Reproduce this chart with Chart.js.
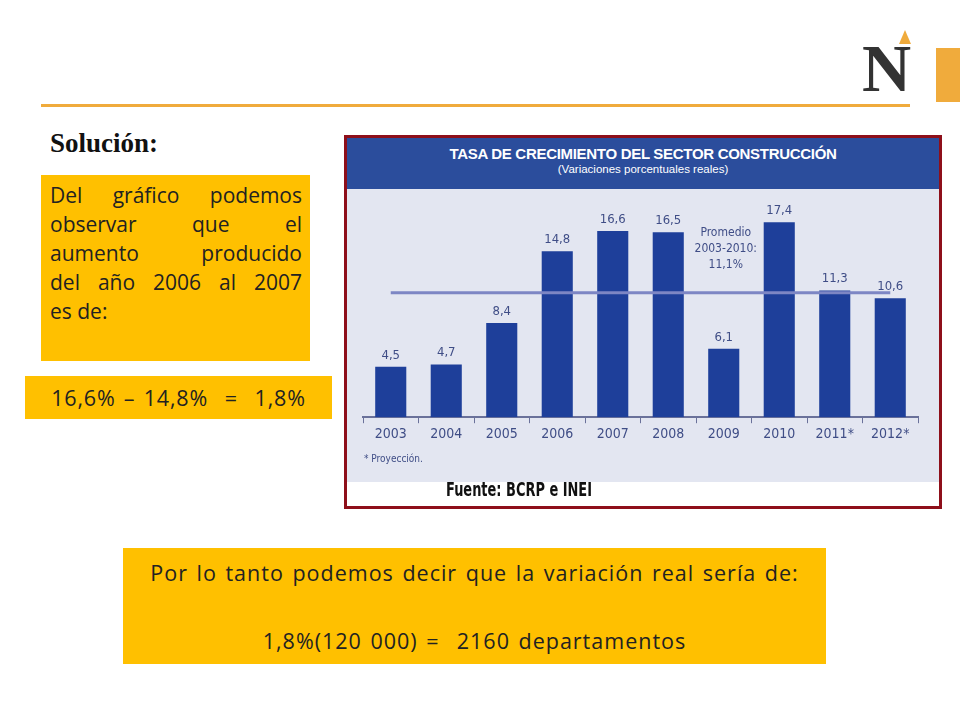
<!DOCTYPE html>
<html>
<head>
<meta charset="utf-8">
<script src="https://cdn.jsdelivr.net/npm/chart.js@4"></script>
<style>
  body { margin: 0; width: 960px; height: 720px; background: #fff; position: relative; overflow: hidden; font-family: "Open Sans", sans-serif; }
  .abs { position: absolute; }
  .amarelo { background: #ffc000; color: #222; }
  .just { text-align: justify; text-align-last: justify; }
</style>
</head>
<body>
<div class="abs" style="left:41px;top:104px;width:869px;height:3px;background:#f0ab3c"></div>
<div class="abs" style="left:936px;top:48px;width:24px;height:54px;background:#f0ab3c"></div>
<div class="abs" style="left:862px;top:34px;font:bold 68px 'Liberation Serif',serif;color:#333;line-height:68px">N</div>
<div class="abs" style="left:899px;top:30px;width:0;height:0;border-left:6px solid transparent;border-right:6px solid transparent;border-bottom:14px solid #f0ab3c"></div>

<div class="abs" style="left:50px;top:128px;font:bold 27px 'Liberation Serif',serif;color:#111">Solución:</div>
<div class="abs amarelo" style="left:41px;top:175px;width:252px;height:178px;padding:6px 8px 2px 9px;font-size:21px;line-height:29px">
  <div class="just">Del gráfico podemos</div>
  <div class="just">observar que el</div>
  <div class="just">aumento producido</div>
  <div class="just">del año 2006 al 2007</div>
  <div>es de:</div>
</div>
<div class="abs amarelo" style="left:25px;top:376px;width:307px;height:43px;font-size:21.5px;line-height:43px;text-align:center;letter-spacing:0.8px;word-spacing:2px">16,6% – 14,8% &nbsp;= &nbsp;1,8%</div>
<div class="abs amarelo" style="left:123px;top:548px;width:703px;height:116px;font-size:21.5px;text-align:center;letter-spacing:1px;word-spacing:2px">
  <div style="position:absolute;left:0;right:0;top:10px">Por lo tanto podemos decir que la variación real sería de:</div>
  <div style="position:absolute;left:0;right:0;top:78px">1,8%(120 000) = &nbsp;2160 departamentos</div>
</div>

<div class="abs" style="left:344px;top:135px;width:592px;height:368px;border:3px solid #8e0f1a;background:#fff">
  <div class="abs" style="left:0;top:0;width:592px;height:51px;background:#2b4d9c;color:#fff;text-align:center;font-family:'Liberation Sans',sans-serif">
    <div style="font-weight:bold;font-size:15px;margin-top:7px;letter-spacing:-0.3px">TASA DE CRECIMIENTO DEL SECTOR CONSTRUCCIÓN</div>
    <div style="font-size:11.5px;margin-top:1px">(Variaciones porcentuales reales)</div>
  </div>
  <div class="abs" style="left:0;top:51px;width:592px;height:293px;background:#e3e6f1">
    <canvas id="grafico" width="592" height="293"></canvas>
  </div>
  <div class="abs" style="left:99px;top:339px;font:bold 20px 'DejaVu Sans Condensed',sans-serif;color:#111;transform:scaleX(0.72);transform-origin:left">Fuente: BCRP e INEI</div>
</div>

<script>
const anos = ["2003", "2004", "2005", "2006", "2007", "2008", "2009", "2010", "2011*", "2012*"];
const tasas = [4.5, 4.7, 8.4, 14.8, 16.6, 16.5, 6.1, 17.4, 11.3, 10.6];
const promedio = 11.1;
const textoPromedio = ["Promedio", "2003-2010:", "11,1%"];

const corTexto = "#3f4d86";

const desenhosExtras = {
  id: "desenhosExtras",
  afterDatasetsDraw(chart) {
    const ctx = chart.ctx;
    const x = chart.scales.x;
    const y = chart.scales.y;
    const meta = chart.getDatasetMeta(0);

    // linea del promedio
    const yProm = y.getPixelForValue(promedio);
    ctx.save();
    ctx.strokeStyle = "#7d86c4";
    ctx.lineWidth = 3;
    ctx.beginPath();
    ctx.moveTo(x.getPixelForValue(0), yProm);
    ctx.lineTo(x.getPixelForValue(9), yProm);
    ctx.stroke();

    // valores encima de las barras
    ctx.fillStyle = corTexto;
    ctx.font = "13px 'DejaVu Sans Condensed', sans-serif";
    ctx.textAlign = "center";
    ctx.textBaseline = "bottom";
    meta.data.forEach((barra, i) => {
      ctx.fillText(tasas[i].toFixed(1).replace(".", ","), barra.x, barra.y - 5);
    });

    // texto del promedio
    ctx.font = "12px 'DejaVu Sans Condensed', sans-serif";
    const xTexto = x.getPixelForValue(6) + 2;
    textoPromedio.forEach((linha, i) => {
      ctx.fillText(linha, xTexto, y.getPixelForValue(15.9) + i * 16);
    });

    // nota
    ctx.textAlign = "left";
    ctx.font = "10px 'DejaVu Sans Condensed', sans-serif";
    ctx.fillText("* Proyección.", 17, chart.chartArea.bottom + 47);
    ctx.restore();
  },
};

new Chart(document.getElementById("grafico"), {
  type: "bar",
  data: {
    labels: anos,
    datasets: [
      {
        data: tasas,
        backgroundColor: "#1e3f9a",
        barPercentage: 0.56,
        categoryPercentage: 1,
      },
    ],
  },
  options: {
    responsive: false,
    animation: false,
    layout: { padding: { left: 16, right: 21, top: 4, bottom: 36 } },
    plugins: { legend: { display: false }, tooltip: { enabled: false } },
    scales: {
      x: {
        grid: { display: true, drawOnChartArea: false, offset: true, color: "#6a719a", tickLength: 6 },
        border: { color: "#6a719a", width: 2 },
        ticks: { color: corTexto, font: { size: 14, family: "DejaVu Sans Condensed" } },
      },
      y: {
        display: false,
        min: 0,
        max: 20,
      },
    },
  },
  plugins: [desenhosExtras],
});
</script>
</body>
</html>
